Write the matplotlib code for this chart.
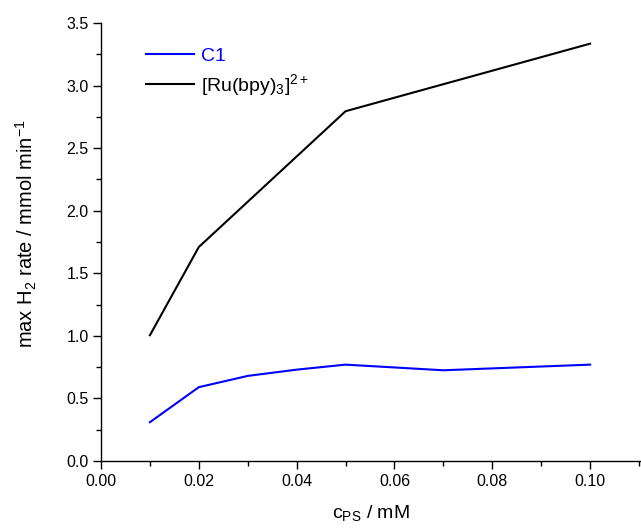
import matplotlib
matplotlib.use("Agg")
import matplotlib.pyplot as plt
from matplotlib.ticker import MultipleLocator

plt.rcParams["font.family"] = ["Liberation Sans", "DejaVu Sans"]
plt.rcParams["mathtext.default"] = "regular"

# Photosensitizer concentration (mM) and max H2 evolution rate (mmol/min)
c1_conc = [0.01, 0.02, 0.03, 0.04, 0.05, 0.07, 0.10]
c1_rate = [0.31, 0.59, 0.68, 0.73, 0.77, 0.725, 0.77]

ru_conc = [0.01, 0.02, 0.05, 0.10]
ru_rate = [1.005, 1.71, 2.795, 3.335]

x_ticks = [0.00, 0.02, 0.04, 0.06, 0.08, 0.10]
y_ticks = [0.0, 0.5, 1.0, 1.5, 2.0, 2.5, 3.0, 3.5]

W, H = 641, 531
fig = plt.figure(figsize=(W / 100, H / 100), dpi=100)
ax = fig.add_axes([101 / W, (H - 461) / H, 540 / W, 438 / H])

ax.plot(c1_conc, c1_rate, color="#0000ff", lw=1.5, label="C1")
ax.plot(ru_conc, ru_rate, color="black", lw=1.5, label="[Ru(bpy)$_3$]$^{2+}$")

ax.set_xlim(0, 0.1104)
ax.set_ylim(0, 3.5)
ax.set_xticks(x_ticks)
ax.set_yticks(y_ticks)
ax.set_xticklabels([f"{v:.2f}" for v in x_ticks])
ax.set_yticklabels([f"{v:.1f}" for v in y_ticks])
ax.xaxis.set_minor_locator(MultipleLocator(0.01))
ax.yaxis.set_minor_locator(MultipleLocator(0.25))

for side in ("top", "right"):
    ax.spines[side].set_visible(False)
for side in ("left", "bottom"):
    ax.spines[side].set_linewidth(1.0)
ax.tick_params(which="major", direction="out", length=6, width=1.0,
               labelsize=11.5, colors="black", pad=3)
ax.tick_params(which="minor", direction="out", length=3.5, width=1.0)

ax.set_xlabel("c$_{PS}$ / mM", fontsize=14)
ax.set_ylabel("max H$_2$ rate / mmol min$^{-1}$", fontsize=14.5)
ax.xaxis.set_label_coords(0.5, -0.095)
ax.yaxis.set_label_coords(-0.115, 0.52)

leg = ax.legend(loc="upper left", bbox_to_anchor=(0.083, 0.945), frameon=False,
                fontsize=14, handlelength=2.5, handletextpad=0.35,
                labelspacing=0.38, borderaxespad=0, borderpad=0)
for txt, line in zip(leg.get_texts(), leg.get_lines()):
    txt.set_color(line.get_color())

fig.savefig("out.png", dpi=100)
